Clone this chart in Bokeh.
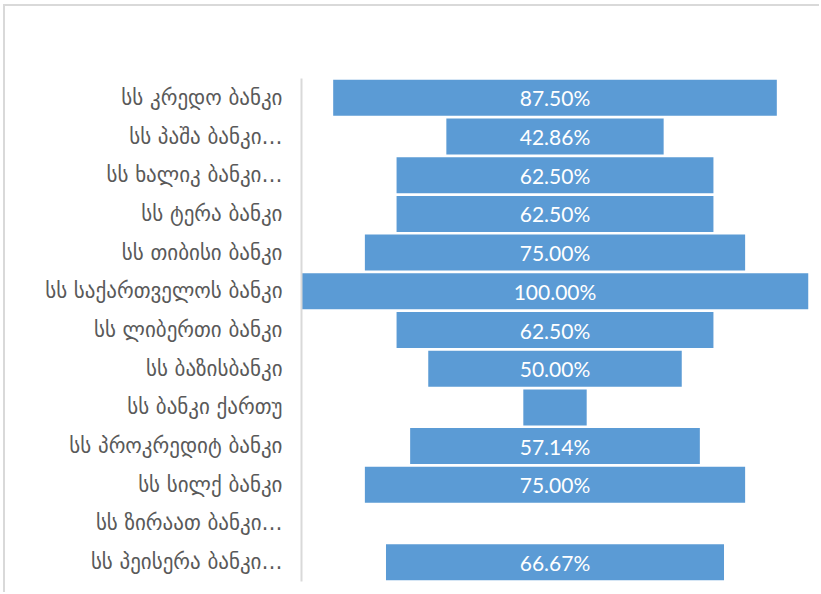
from bokeh.plotting import figure
from bokeh.models import FactorRange, Range1d, ColumnDataSource
from bokeh.core.properties import value
from bokeh.embed import file_html
from bokeh.resources import INLINE

banks = [
    "სს კრედო ბანკი",
    "სს პაშა ბანკი…",
    "სს ხალიკ ბანკი…",
    "სს ტერა ბანკი",
    "სს თიბისი ბანკი",
    "სს საქართველოს ბანკი",
    "სს ლიბერთი ბანკი",
    "სს ბაზისბანკი",
    "სს ბანკი ქართუ",
    "სს პროკრედიტ ბანკი",
    "სს სილქ ბანკი",
    "სს ზირაათ ბანკი…",
    "სს პეისერა ბანკი…",
]
values = [87.50, 42.86, 62.50, 62.50, 75.00, 100.00, 62.50, 50.00, 12.50, 57.14, 75.00, 0.0, 66.67]
value_labels = ["87.50%", "42.86%", "62.50%", "62.50%", "75.00%", "100.00%", "62.50%",
                "50.00%", "", "57.14%", "75.00%", "", "66.67%"]

source = ColumnDataSource(dict(
    bank=banks,
    left=[-v / 2 for v in values],
    right=[v / 2 for v in values],
    mid=[0.0 for v in values],
    lab=value_labels,
))

p = figure(
    width=816, height=588,
    y_range=FactorRange(factors=list(reversed(banks))),
    x_range=Range1d(-50, 50),
    output_backend="svg", toolbar_location=None,
    min_border_left=296, min_border_right=13, min_border_top=72, min_border_bottom=13,
)
p.styles = {"border-top": "2px solid #d9d9d9", "border-left": "2px solid #d9d9d9",
            "margin-left": "3px", "margin-top": "4px"}

p.hbar(y="bank", left="left", right="right", height=0.93, source=source,
       fill_color="#5B9BD5", line_color=None)

p.text(x="mid", y="bank", text="lab", source=source,
       text_align="center", text_baseline="middle",
       text_color="white", text_font=value("Lato"), text_font_size="21px")

p.xaxis.visible = False
p.xgrid.visible = False
p.ygrid.visible = False
p.outline_line_color = None

yax = p.yaxis[0]
yax.axis_line_color = "#d9d9d9"
yax.axis_line_width = 2
yax.major_tick_line_color = None
yax.minor_tick_line_color = None
yax.major_label_standoff = 13
yax.major_label_text_font = "DejaVu Sans"
yax.major_label_text_font_size = "21px"
yax.major_label_text_color = "#595959"

open("out.html", "w").write(file_html(p, INLINE))
